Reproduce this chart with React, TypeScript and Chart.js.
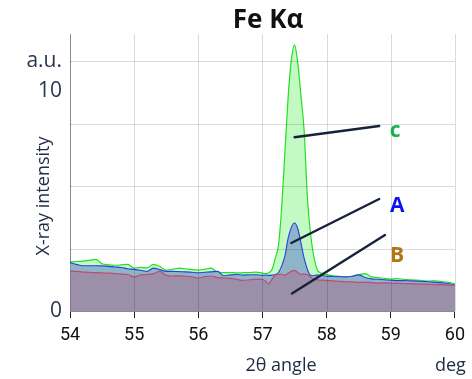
import { useEffect, useRef } from "react";
import { Chart, registerables } from "chart.js";

Chart.register(...registerables);

// 2θ sampling (deg): coarse on the baseline, finer across the Fe Kα peak
const angles = [
  54.0, 54.1, 54.2, 54.3, 54.4, 54.5, 54.6, 54.7, 54.8, 54.9,
  55.0, 55.1, 55.2, 55.3, 55.4, 55.5, 55.6, 55.7, 55.8, 55.9,
  56.0, 56.1, 56.2, 56.3, 56.4, 56.5, 56.6, 56.7, 56.8, 56.9,
  57.0, 57.05, 57.1, 57.15, 57.2, 57.25, 57.3, 57.35, 57.4, 57.45,
  57.5, 57.55, 57.6, 57.65, 57.7, 57.75, 57.8, 57.85, 57.9, 57.95,
  58.0, 58.1, 58.2, 58.3, 58.4, 58.5, 58.6, 58.7, 58.8, 58.9,
  59.0, 59.1, 59.2, 59.3, 59.4, 59.5, 59.6, 59.7, 59.8, 59.9, 60.0,
];

// Intensity, a.u.
const sampleC = [
  2.23, 2.25, 2.27, 2.30, 2.35, 2.15, 2.10, 2.08, 2.10, 2.12,
  1.95, 1.98, 1.96, 2.12, 2.02, 1.86, 1.90, 1.95, 1.92, 1.88,
  1.86, 1.90, 1.95, 1.76, 1.74, 1.75, 1.73, 1.74, 1.75, 1.77,
  1.72, 1.70, 1.74, 1.90, 2.40, 3.00, 4.70, 7.20, 9.70, 11.40,
  12.10, 11.30, 9.80, 8.20, 5.20, 3.50, 2.50, 1.90, 1.74, 1.70,
  1.65, 1.60, 1.58, 1.55, 1.58, 1.65, 1.70, 1.55, 1.52, 1.48,
  1.45, 1.47, 1.44, 1.42, 1.40, 1.38, 1.36, 1.37, 1.34, 1.30, 1.24,
];

const sampleA = [
  2.20, 2.12, 2.06, 2.06, 2.06, 2.05, 2.03, 2.00, 1.98, 1.92,
  1.89, 1.85, 1.80, 1.95, 1.88, 1.80, 1.80, 1.79, 1.78, 1.76,
  1.74, 1.76, 1.78, 1.80, 1.60, 1.64, 1.66, 1.63, 1.65, 1.65,
  1.62, 1.63, 1.62, 1.63, 1.66, 1.75, 2.05, 2.50, 3.30, 3.80,
  4.00, 3.75, 3.10, 2.40, 1.90, 1.62, 1.60, 1.64, 1.62, 1.60,
  1.58, 1.57, 1.56, 1.55, 1.58, 1.64, 1.52, 1.46, 1.44, 1.42,
  1.40, 1.38, 1.38, 1.37, 1.36, 1.34, 1.33, 1.30, 1.28, 1.25, 1.18,
];

const sampleB = [
  1.82, 1.80, 1.77, 1.76, 1.74, 1.73, 1.72, 1.70, 1.68, 1.66,
  1.55, 1.64, 1.66, 1.70, 1.80, 1.62, 1.59, 1.60, 1.58, 1.55,
  1.50, 1.56, 1.59, 1.52, 1.50, 1.48, 1.44, 1.39, 1.42, 1.45,
  1.44, 1.35, 1.24, 1.45, 1.64, 1.66, 1.67, 1.62, 1.72, 1.80,
  1.85, 1.75, 1.67, 1.68, 1.66, 1.55, 1.44, 1.42, 1.40, 1.40,
  1.39, 1.37, 1.35, 1.33, 1.32, 1.30, 1.31, 1.29, 1.27, 1.28,
  1.27, 1.26, 1.25, 1.24, 1.23, 1.22, 1.21, 1.20, 1.20, 1.18, 1.17,
];

const xTickValues = [54, 55, 56, 57, 58, 59, 60];
const yGridValues = [0, 2.84, 5.68, 8.52, 11.36];
const yLabelValues = [0, 10, 11.36];
const yLabelTexts = ["0", "10", "a.u."];

const seriesNames = ["B", "A", "c"];

// Callout leader lines in data coordinates, with label anchors
const callouts = [
  { text: "c", color: "#17b24a", from: [57.5, 7.9], to: [58.82, 8.41], at: [59.07, 8.2] },
  { text: "A", color: "#1010f0", from: [57.45, 3.09], to: [58.82, 5.09], at: [59.1, 4.77] },
  { text: "B", color: "#b07814", from: [57.46, 0.8], to: [58.91, 3.45], at: [59.1, 2.5] },
];

const toPoints = (ys: number[]) => angles.map((x, i) => ({ x, y: ys[i] }));

// Grid lines laid over the filled areas, clipped to the plot area
const gridOverlay = {
  id: "gridOverlay",
  afterDatasetsDraw(chart: any) {
    const { ctx, chartArea: a } = chart;
    const xs = chart.scales.x;
    const ys = chart.scales.y;
    ctx.save();
    ctx.beginPath();
    ctx.rect(a.left, a.top, a.right - a.left + 1, a.bottom - a.top);
    ctx.clip();
    ctx.strokeStyle = "rgba(0,0,0,0.14)";
    ctx.lineWidth = 1;
    for (const v of xTickValues) {
      const px = Math.round(xs.getPixelForValue(v)) + 0.5;
      ctx.beginPath();
      ctx.moveTo(px, a.top);
      ctx.lineTo(px, a.bottom);
      ctx.stroke();
    }
    for (const v of yGridValues) {
      if (v === 0) continue;
      const py = Math.round(ys.getPixelForValue(v)) + 0.5;
      ctx.beginPath();
      ctx.moveTo(a.left, py);
      ctx.lineTo(a.right, py);
      ctx.stroke();
    }
    ctx.restore();
  },
};

const textPlugin = {
  id: "textLayer",
  afterDraw(chart: any) {
    const { ctx, chartArea: a } = chart;
    const xs = chart.scales.x;
    const ys = chart.scales.y;
    ctx.save();

    // keep the margins above and left of the plot clean
    ctx.fillStyle = "#ffffff";
    ctx.fillRect(0, 0, chart.width, a.top - 1);
    ctx.fillRect(0, 0, 22, chart.height);

    // Leader lines and series labels
    ctx.strokeStyle = "#16223a";
    ctx.lineWidth = 2.4;
    ctx.lineCap = "round";
    for (const c of callouts) {
      ctx.beginPath();
      ctx.moveTo(xs.getPixelForValue(c.from[0]), ys.getPixelForValue(c.from[1]));
      ctx.lineTo(xs.getPixelForValue(c.to[0]), ys.getPixelForValue(c.to[1]));
      ctx.stroke();
    }
    ctx.font = "bold 21px 'Open Sans'";
    ctx.textAlign = "center";
    ctx.textBaseline = "middle";
    for (const c of callouts) {
      ctx.fillStyle = c.color;
      ctx.fillText(c.text, xs.getPixelForValue(c.at[0]), ys.getPixelForValue(c.at[1]));
    }

    // Title
    ctx.fillStyle = "#111111";
    ctx.font = "bold 26px 'Open Sans'";
    ctx.fillText("Fe Kα", 268, 21);

    // Axis titles
    ctx.fillStyle = "#1f2b45";
    ctx.font = "18px 'Open Sans'";
    ctx.fillText("2θ angle", 281, 366);
    ctx.textAlign = "left";
    ctx.fillText("deg", 435, 366);

    ctx.translate(44, 196);
    ctx.rotate(-Math.PI / 2);
    ctx.textAlign = "center";
    ctx.fillText("X-ray intensity", 0, 0);
    ctx.restore();
  },
};

export default function App() {
  const canvasRef = useRef<HTMLCanvasElement | null>(null);

  useEffect(() => {
    const canvas = canvasRef.current;
    if (!canvas) return;
    const chart = new Chart(canvas, {
      type: "line",
      data: {
        datasets: [
          {
            label: seriesNames[0],
            data: toPoints(sampleB),
            borderColor: "#c24a72",
            backgroundColor: "#9b8fa9",
            fill: "origin",
            borderWidth: 1.2,
          },
          {
            label: seriesNames[1],
            data: toPoints(sampleA),
            borderColor: "#2a3fe6",
            backgroundColor: "#8db5c7",
            fill: "origin",
            borderWidth: 1.1,
          },
          {
            label: seriesNames[2],
            data: toPoints(sampleC),
            borderColor: "#22e022",
            backgroundColor: "#c3f9c3",
            fill: "origin",
            borderWidth: 1.2,
          },
        ],
      },
      options: {
        responsive: false,
        animation: false,
        layout: { padding: { top: 34, right: 16, left: 0, bottom: 0 } },
        elements: {
          point: { radius: 0, hoverRadius: 0 },
          line: { cubicInterpolationMode: "monotone" },
        },
        plugins: {
          legend: { display: false },
          title: { display: false },
          tooltip: { enabled: false },
        },
        scales: {
          x: {
            type: "linear",
            min: 54,
            max: 60,
            afterFit: (s: any) => {
              s.height = 68;
            },
            afterBuildTicks: (s: any) => {
              s.ticks = xTickValues.map((v) => ({ value: v }));
            },
            grid: {
              drawOnChartArea: false,
              color: "#222222",
              tickColor: "#222222",
              tickLength: 7,
            },
            border: { color: "#8a8a8a", z: 1 },
            ticks: {
              padding: 7,
              color: "#111111",
              font: { family: "Roboto", size: 18 },
              maxRotation: 0,
              callback: (v: any) => String(v),
            },
          },
          y: {
            type: "linear",
            min: 0,
            max: 12.59,
            afterFit: (s: any) => {
              s.width = 70;
            },
            afterBuildTicks: (s: any) => {
              s.ticks = yLabelValues.map((v) => ({ value: v }));
            },
            grid: { drawOnChartArea: false, drawTicks: false },
            border: { color: "#a0a0a0" },
            ticks: {
              padding: 8,
              color: "#2a3550",
              font: { family: "'Open Sans'", size: 21 },
              callback: (v: any) => {
                const i = yLabelValues.indexOf(Number(v));
                return i >= 0 ? yLabelTexts[i] : "";
              },
            },
          },
        },
      },
      plugins: [gridOverlay, textPlugin],
    });
    return () => chart.destroy();
  }, []);

  return (
    <div style={{ position: "fixed", left: 0, top: 0, width: 472, height: 379, background: "#ffffff" }}>
      <canvas ref={canvasRef} width={472} height={379} style={{ width: 472, height: 379, display: "block" }} />
    </div>
  );
}
